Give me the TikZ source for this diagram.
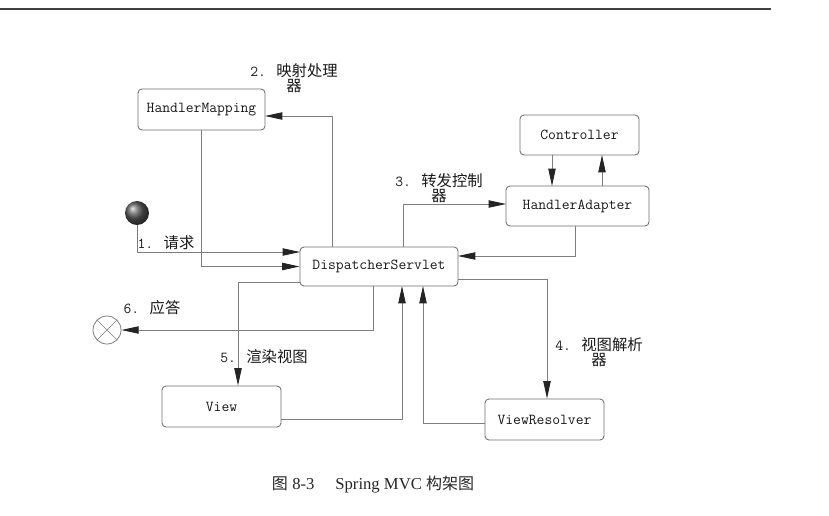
\documentclass[tikz,border=0pt]{standalone}
\usepackage{fontspec}
\newfontfamily\cjk{Noto Sans CJK SC}
\newfontfamily\capfont{Liberation Serif}
\usetikzlibrary{arrows.meta,shadings}
\definecolor{boxgray}{HTML}{6E6E6E}
\definecolor{linegray}{HTML}{7E7E7E}
\definecolor{tipcol}{HTML}{242424}
\newcommand\zh[1]{{\cjk\fontsize{11.5}{12}\selectfont #1}}
\begin{document}
\begin{tikzpicture}[x=0.75pt,y=-0.75pt,
  box/.style={draw=boxgray, rounded corners=3pt, line width=0.65pt, inner sep=0pt,
    font=\fontsize{11.4}{13}\ttfamily, text=black!90},
  conn/.style={draw=linegray, line width=0.6pt,
    -{Triangle[length=13pt,width=5.5pt,color=tipcol]}},
  lbl/.style={font=\fontsize{11.4}{11.5}\ttfamily, align=center, inner sep=0pt, text=black!90}
]
\useasboundingbox (0,0) rectangle (829,515);
% page header rule
\draw[line width=1.1pt, black!75] (0,9) -- (771,9);

% boxes
\node[box, minimum width=95.25pt, minimum height=30.75pt] (hm) at (201.5,109.5) {HandlerMapping};
\node[box, minimum width=118.5pt, minimum height=29.25pt] (ds) at (379,266.5) {DispatcherServlet};
\node[box, minimum width=107.25pt, minimum height=30pt] (ha) at (577.5,206) {HandlerAdapter};
\node[box, minimum width=89.25pt, minimum height=30pt] (ct) at (579.5,135) {Controller};
\node[box, minimum width=89.25pt, minimum height=30.75pt] (vw) at (221.5,406.5) {View};
\node[box, minimum width=89.25pt, minimum height=30.75pt] (vr) at (544.5,419.5) {ViewResolver};

% start and end markers
\node[circle, minimum size=18pt, inner sep=0pt, shading=ball, ball color=black!65] (st) at (137,213) {};
\node[circle, draw=linegray, line width=0.6pt, minimum size=21pt, inner sep=0pt] (en) at (107,330) {};
\draw[linegray, line width=0.5pt] (en.north west) -- (en.south east) (en.north east) -- (en.south west);

% helper coordinates
\coordinate (q1) at (300,252);
\coordinate (p2a) at (332,247);
\coordinate (p2b) at (332,116);
\coordinate (q2) at (265,116);
\coordinate (p3a) at (403,247);
\coordinate (p3b) at (403,204);
\coordinate (q3) at (506,204);
\coordinate (pha) at (575,226);
\coordinate (qha) at (458,256);
\coordinate (cd1) at (552,155);
\coordinate (cd2) at (552,186);
\coordinate (cu1) at (602,186);
\coordinate (cu2) at (602,155);
\coordinate (p4a) at (458,279);
\coordinate (p4b) at (547,279);
\coordinate (p5a) at (300,282);
\coordinate (p5b) at (238,282);
\coordinate (p6a) at (373,286);
\coordinate (p6b) at (373,330);
\coordinate (pvr) at (485,423);
\coordinate (qvr) at (423,286);
\coordinate (pvw) at (281,419);
\coordinate (qvw) at (402,286);

% connectors
\draw[conn] (st.south) |- (q1);
\draw[conn] (p2a) -- (p2b) -- (q2);
\draw[conn] (hm.south) |- (ds.west);
\draw[conn] (p3a) -- (p3b) -- (q3);
\draw[conn] (pha) |- (qha);
\draw[conn] (cd1) -- (cd2);
\draw[conn] (cu1) -- (cu2);
\draw[conn] (p4a) -- (p4b) -- (p4b |- vr.north);
\draw[conn] (p5a) -- (p5b) -- (p5b |- vw.north);
\draw[conn] (p6a) -- (p6b) -- (en.east);
\draw[conn] (pvr) -| (qvr);
\draw[conn] (pvw) -| (qvw);

% labels
\node[lbl] (l1) at (166,243) {1. \zh{请求}};
\node[lbl] (l2) at (294,78) {2. \zh{映射处理}\\\zh{器}};
\node[lbl] (l3) at (439,188) {3. \zh{转发控制}\\\zh{器}};
\node[lbl] (l4) at (599,352) {4. \zh{视图解析}\\\zh{器}};
\node[lbl] (l5) at (264,357) {5. \zh{渲染视图}};
\node[lbl] (l6) at (152,308) {6. \zh{应答}};

% caption
\node[inner sep=0pt, text=black!85] (cap) at (373,485)
  {{\cjk\fontsize{12}{14}\selectfont 图} {\capfont\fontsize{12.5}{14}\selectfont 8-3\quad\ Spring MVC }{\cjk\fontsize{12}{14}\selectfont 构架图}};
\end{tikzpicture}
\end{document}
